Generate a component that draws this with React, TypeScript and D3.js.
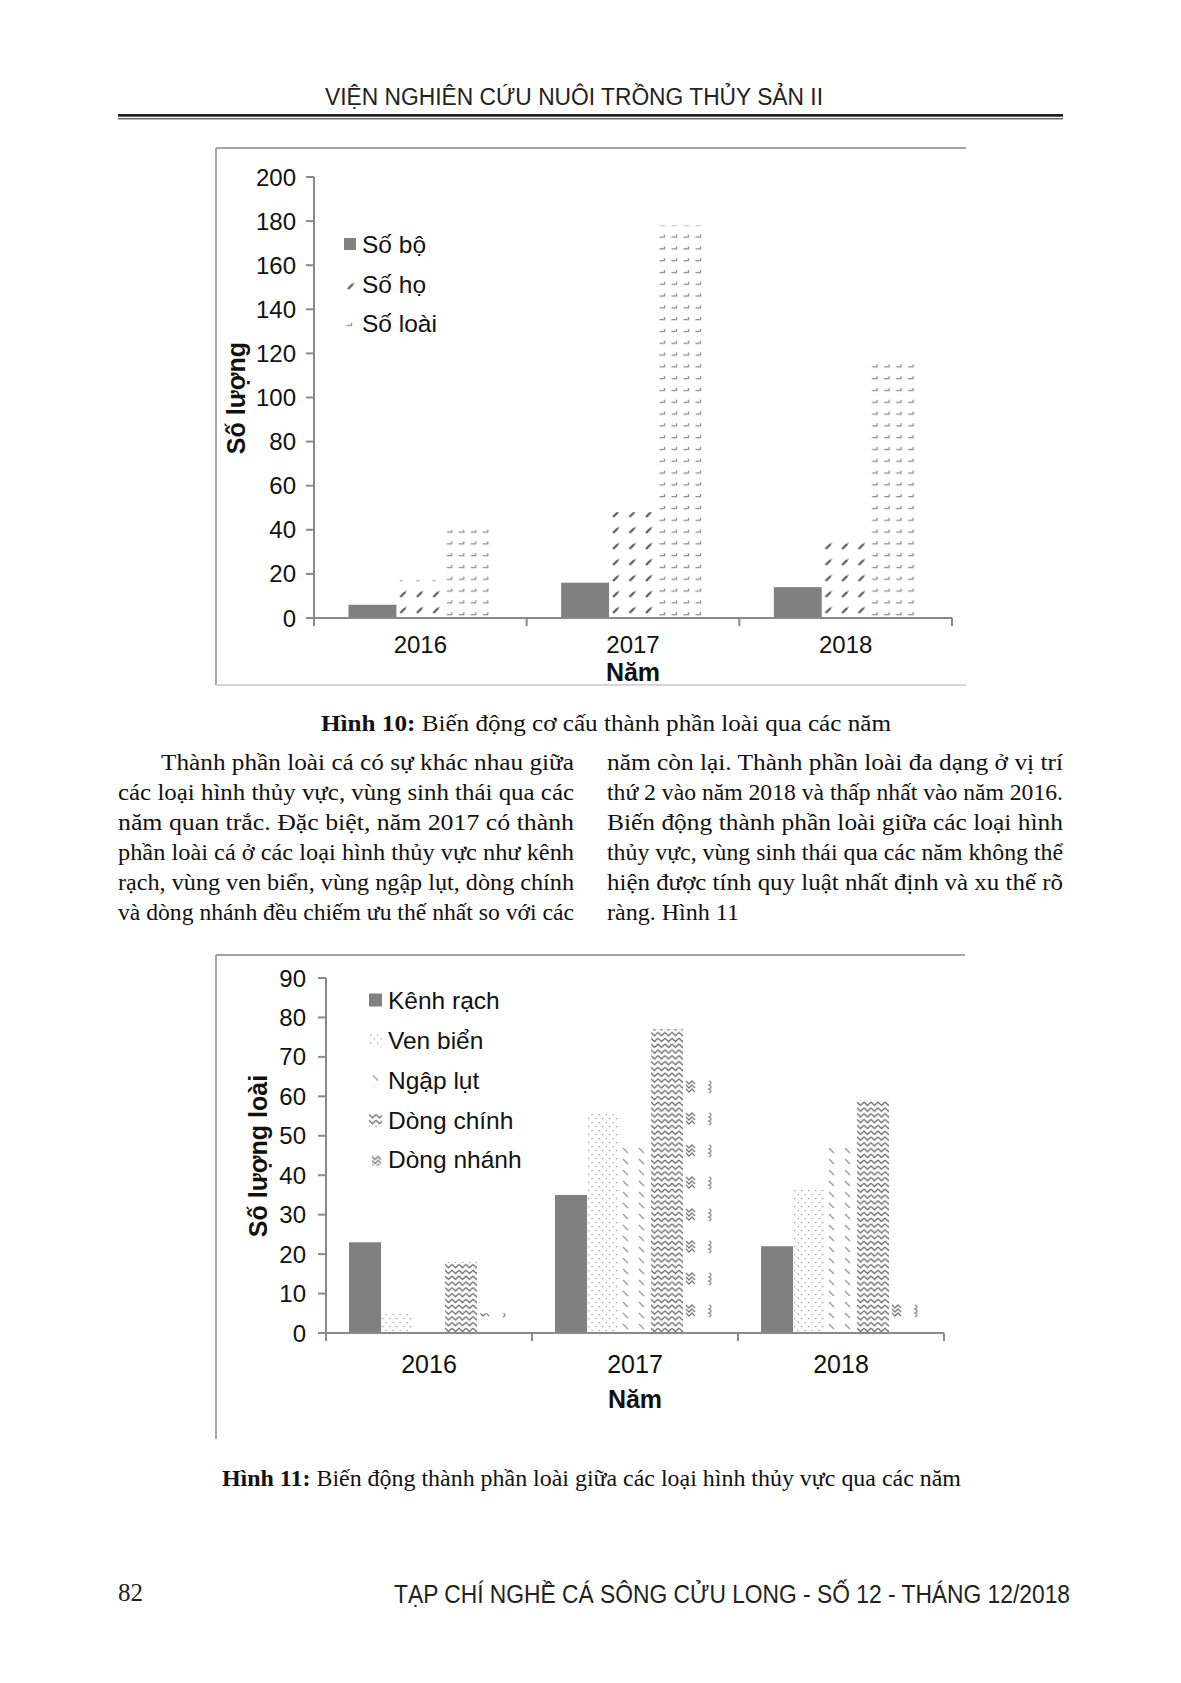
import React from 'react';
import * as d3 from 'd3';

// ---------- DATA ----------
const YEARS = ['2016', '2017', '2018'];

// Hình 10
const SERIES_10 = ['Số bộ', 'Số họ', 'Số loài'];
const SO_BO = [6, 16, 14];
const SO_HO = [17, 48, 38];
const SO_LOAI = [40, 178, 117];
const Y_MAX_10 = 200;

// Hình 11
const SERIES_11 = ['Kênh rạch', 'Ven biển', 'Ngập lụt', 'Dòng chính', 'Dòng nhánh'];
const KENH_RACH = [23, 35, 22];
const VEN_BIEN = [5, 56, 37];
const NGAP_LUT = [0, 47, 47];
const DONG_CHINH = [18, 77, 59];
const DONG_NHANH = [5, 65, 9];
const Y_MAX_11 = 90;

const HEADER = 'VIỆN NGHIÊN CỨU NUÔI TRỒNG THỦY SẢN II';
const FOOTER_PAGE = '82';
const FOOTER = 'TẠP CHÍ NGHỀ CÁ SÔNG CỬU LONG - SỐ 12 - THÁNG 12/2018';
const CAPTION_10 = ['Hình 10:', ' Biến động cơ cấu thành phần loài qua các năm'];
const CAPTION_11 = ['Hình 11:', ' Biến động thành phần loài giữa các loại hình thủy vực qua các năm'];
const LEFT_COL = [
  'Thành phần loài cá có sự khác nhau giữa',
  'các loại hình thủy vực, vùng sinh thái qua các',
  'năm quan trắc. Đặc biệt, năm 2017 có thành',
  'phần loài cá ở các loại hình thủy vực như kênh',
  'rạch, vùng ven biển, vùng ngập lụt, dòng chính',
  'và dòng nhánh đều chiếm ưu thế nhất so với các',
];
const RIGHT_COL = [
  'năm còn lại. Thành phần loài đa dạng ở vị trí',
  'thứ 2 vào năm 2018 và thấp nhất vào năm 2016.',
  'Biến động thành phần loài giữa các loại hình',
  'thủy vực, vùng sinh thái qua các năm không thể',
  'hiện được tính quy luật nhất định và xu thế rõ',
  'ràng. Hình 11',
];

// ---------- STYLE ----------
const SANS = '"Liberation Sans", Arial, sans-serif';
const SERIF = '"Liberation Serif", "Times New Roman", serif';
const AXIS = '#8a8a8a';
const BOX = '#a3a3a3';
const SOLID = '#808080';

type Pat = { w: number; h: number; draw: () => React.ReactNode };
const PATTERNS: Record<string, Pat> = {
  ho: {
    w: 16.5, h: 16,
    draw: () => (
      <>
        <path d="M4,11 L9,6" stroke="#606060" strokeWidth={2.4} />
        <path d="M9,6 L10.5,4.5" stroke="#b0b0b0" strokeWidth={1.2} />
      </>
    ),
  },
  loai: {
    w: 12, h: 11.8,
    draw: () => <path d="M2.5,8.5 H7.5 V6" fill="none" stroke="#8c8c8c" strokeWidth={1.3} />,
  },
  ven: {
    w: 7, h: 8,
    draw: () => (
      <>
        <rect x={1} y={1} width={1.3} height={1.2} fill="#9a9a9a" />
        <rect x={4.5} y={5} width={1.3} height={1.2} fill="#9a9a9a" />
      </>
    ),
  },
  ngap: {
    w: 16, h: 11,
    draw: () => <path d="M4,2 L9,7" stroke="#a2a2a2" strokeWidth={1.5} />,
  },
  chinh: {
    w: 7, h: 5.8,
    draw: () => <path d="M0,1 L3.5,4.4 L7,1" fill="none" stroke="#6e6e6e" strokeWidth={1.2} />,
  },
  nhanh: {
    w: 32, h: 32,
    draw: () => (
      <>
        <path d="M3,4 l3,3 l3,-3 l3,3 M3,8 l3,3 l3,-3 l3,3 M3,12 l3,3 l3,-3 l3,3" fill="none" stroke="#7a7a7a" strokeWidth={1.3} />
        <path d="M26,4 q4,1.5 0,4 q4,1.5 0,4 q4,1.5 0,4" fill="none" stroke="#9a9a9a" strokeWidth={1.5} />
      </>
    ),
  },
};

type ChartProps = {
  id: string;
  names: string[];
  values: number[][];
  kinds: string[];
  yMax: number;
  yTop: number;
  yBottom: number;
  xLeft: number;
  xRight: number;
  innerPad: number;
  labelGap: number;
  box: { left: number; top: number; right: number; bottom: number; bottomLine: boolean };
  legendX: number;
  legendY: number[];
  legendSize: number;
  legendFont: number;
  yTitle: string;
  yTitleX: number;
  yTitleY: number;
  yearBaseline: number;
  yearFont: number;
  namBaseline: number;
};

function BarChart(p: ChartProps) {
  const y = d3.scaleLinear().domain([0, p.yMax]).range([p.yBottom, p.yTop]);
  const x0 = d3.scaleBand<string>().domain(YEARS).range([p.xLeft, p.xRight]).paddingInner(0).paddingOuter(0);
  const x1 = d3.scaleBand<string>().domain(p.names).range([0, x0.bandwidth()]).paddingInner(0).paddingOuter(p.innerPad);
  const ticks = y.ticks(10);
  const base = y(0);
  const boundaries = [...YEARS.map((yr) => x0(yr) as number), p.xRight];

  const defs: React.ReactNode[] = [];
  const bars: React.ReactNode[] = [];
  p.names.forEach((name, si) => {
    const kind = p.kinds[si];
    YEARS.forEach((yr, ci) => {
      const v = p.values[si][ci];
      const bx = (x0(yr) as number) + (x1(name) as number);
      const bw = x1.bandwidth();
      let fill = SOLID;
      if (kind !== 'solid') {
        const pat = PATTERNS[kind];
        const pid = `${p.id}-p-${si}-${ci}`;
        defs.push(
          <pattern key={pid} id={pid} patternUnits="userSpaceOnUse" x={bx} y={base} width={pat.w} height={pat.h}>
            {pat.draw()}
          </pattern>
        );
        fill = `url(#${pid})`;
      }
      if (v > 0) bars.push(<rect key={`${si}-${ci}`} x={bx} y={y(v)} width={bw} height={base - y(v)} fill={fill} />);
    });
  });

  const legend = p.names.map((name, si) => {
    const kind = p.kinds[si];
    const cy = p.legendY[si];
    const sx = p.legendX;
    const sy = cy - p.legendSize / 2;
    let fill = SOLID;
    if (kind !== 'solid') {
      const pat = PATTERNS[kind];
      const pid = `${p.id}-lg-${si}`;
      defs.push(
        <pattern key={pid} id={pid} patternUnits="userSpaceOnUse" x={sx} y={sy} width={pat.w} height={pat.h}>
          {pat.draw()}
        </pattern>
      );
      fill = `url(#${pid})`;
    }
    return (
      <g key={`lg-${si}`}>
        <rect x={sx} y={sy} width={p.legendSize} height={p.legendSize} fill={fill} />
        <text x={sx + p.legendSize + 6} y={cy + p.legendFont * 0.36} fontFamily={SANS} fontSize={p.legendFont} fill="#111">
          {name}
        </text>
      </g>
    );
  });

  const axisCenter = (p.xLeft + p.xRight) / 2;

  return (
    <g>
      <defs>{defs}</defs>
      {/* frame */}
      <line x1={p.box.left} y1={p.box.top} x2={p.box.right} y2={p.box.top} stroke={BOX} strokeWidth={2} />
      <line x1={p.box.left} y1={p.box.top} x2={p.box.left} y2={p.box.bottom} stroke={BOX} strokeWidth={2} />
      {p.box.bottomLine && (
        <line x1={p.box.left} y1={p.box.bottom} x2={p.box.right} y2={p.box.bottom} stroke="#c8c8c8" strokeWidth={1.5} />
      )}
      {/* bars */}
      {bars}
      {/* y axis */}
      <line x1={p.xLeft} y1={y(p.yMax)} x2={p.xLeft} y2={base} stroke={AXIS} strokeWidth={2} />
      {ticks.map((t) => (
        <g key={`t${t}`}>
          <line x1={p.xLeft - 8} y1={y(t)} x2={p.xLeft} y2={y(t)} stroke={AXIS} strokeWidth={2} />
          <text x={p.xLeft - p.labelGap} y={y(t) + 8.5} textAnchor="end" fontFamily={SANS} fontSize={24} fill="#111">
            {t}
          </text>
        </g>
      ))}
      {/* x axis */}
      <line x1={p.xLeft} y1={base} x2={p.xRight} y2={base} stroke={AXIS} strokeWidth={2} />
      {boundaries.map((bx, i) => (
        <line key={`b${i}`} x1={bx} y1={base} x2={bx} y2={base + 8} stroke={AXIS} strokeWidth={2} />
      ))}
      {YEARS.map((yr) => (
        <text key={yr} x={(x0(yr) as number) + x0.bandwidth() / 2} y={p.yearBaseline} textAnchor="middle" fontFamily={SANS} fontSize={p.yearFont} fill="#111">
          {yr}
        </text>
      ))}
      <text x={axisCenter} y={p.namBaseline} textAnchor="middle" fontFamily={SANS} fontWeight="bold" fontSize={25} fill="#111">
        Năm
      </text>
      <text
        transform={`translate(${p.yTitleX},${p.yTitleY}) rotate(-90)`}
        textAnchor="middle"
        dominantBaseline="central"
        fontFamily={SANS}
        fontWeight="bold"
        fontSize={25}
        fill="#111"
      >
        {p.yTitle}
      </text>
      {legend}
    </g>
  );
}

function JustLine({ x, y, w, text }: { x: number; y: number; w: number; text: string }) {
  return (
    <text x={x} y={y} fontFamily={SERIF} fontSize={24} fill="#111" textLength={w} lengthAdjust="spacingAndGlyphs">
      {text}
    </text>
  );
}

export default function App() {
  const lineBase = [770, 800, 830, 860, 890, 920];
  return (
    <svg
      width={1181}
      height={1683}
      viewBox="0 0 1181 1683"
      style={{ position: 'absolute', left: 0, top: 0, background: '#fff' }}
    >
      <rect x={0} y={0} width={1181} height={1683} fill="#fff" />
      {/* header */}
      <text x={325} y={105} fontFamily={SANS} fontSize={23} fill="#222" textLength={498} lengthAdjust="spacingAndGlyphs">
        {HEADER}
      </text>
      <line x1={118} y1={115.3} x2={1063} y2={115.3} stroke="#222" strokeWidth={2.8} />
      <line x1={118} y1={118.8} x2={1063} y2={118.8} stroke="#222" strokeWidth={1} />

      <BarChart
        id="h10"
        names={SERIES_10}
        values={[SO_BO, SO_HO, SO_LOAI]}
        kinds={['solid', 'ho', 'loai']}
        yMax={Y_MAX_10}
        yTop={177}
        yBottom={618}
        xLeft={314}
        xRight={952}
        innerPad={0.72}
        labelGap={18}
        box={{ left: 216, top: 148, right: 966, bottom: 685, bottomLine: true }}
        legendX={344}
        legendY={[244, 284, 323]}
        legendSize={12}
        legendFont={24.5}
        yTitle="Số lượng"
        yTitleX={236}
        yTitleY={398}
        yearBaseline={653}
        yearFont={24}
        namBaseline={681}
      />

      <text x={321} y={731} fontFamily={SERIF} fontSize={23} fill="#111" textLength={570} lengthAdjust="spacingAndGlyphs">
        <tspan fontWeight="bold">{CAPTION_10[0]}</tspan>
        <tspan>{CAPTION_10[1]}</tspan>
      </text>

      {LEFT_COL.map((t, i) => (
        <JustLine key={`l${i}`} x={i === 0 ? 161 : 118} y={lineBase[i]} w={i === 0 ? 413 : 456} text={t} />
      ))}
      {RIGHT_COL.map((t, i) => (
        <JustLine key={`r${i}`} x={607} y={lineBase[i]} w={i < RIGHT_COL.length - 1 ? 456 : 132} text={t} />
      ))}

      <BarChart
        id="h11"
        names={SERIES_11}
        values={[KENH_RACH, VEN_BIEN, NGAP_LUT, DONG_CHINH, DONG_NHANH]}
        kinds={['solid', 'ven', 'ngap', 'chinh', 'nhanh']}
        yMax={Y_MAX_11}
        yTop={978}
        yBottom={1333}
        xLeft={326}
        xRight={944}
        innerPad={0.72}
        labelGap={20}
        box={{ left: 216, top: 955, right: 965, bottom: 1439, bottomLine: false }}
        legendX={369}
        legendY={[1000, 1040, 1080, 1120, 1159]}
        legendSize={13}
        legendFont={24.5}
        yTitle="Số lượng loài"
        yTitleX={258}
        yTitleY={1156}
        yearBaseline={1373}
        yearFont={25}
        namBaseline={1408}
      />

      <text x={222} y={1486} fontFamily={SERIF} fontSize={23} fill="#111" textLength={739} lengthAdjust="spacingAndGlyphs">
        <tspan fontWeight="bold">{CAPTION_11[0]}</tspan>
        <tspan>{CAPTION_11[1]}</tspan>
      </text>

      {/* footer */}
      <text x={118} y={1601} fontFamily={SERIF} fontSize={25} fill="#222">
        {FOOTER_PAGE}
      </text>
      <text x={394} y={1603} fontFamily={SANS} fontSize={25} fill="#222" textLength={676} lengthAdjust="spacingAndGlyphs">
        {FOOTER}
      </text>
    </svg>
  );
}
